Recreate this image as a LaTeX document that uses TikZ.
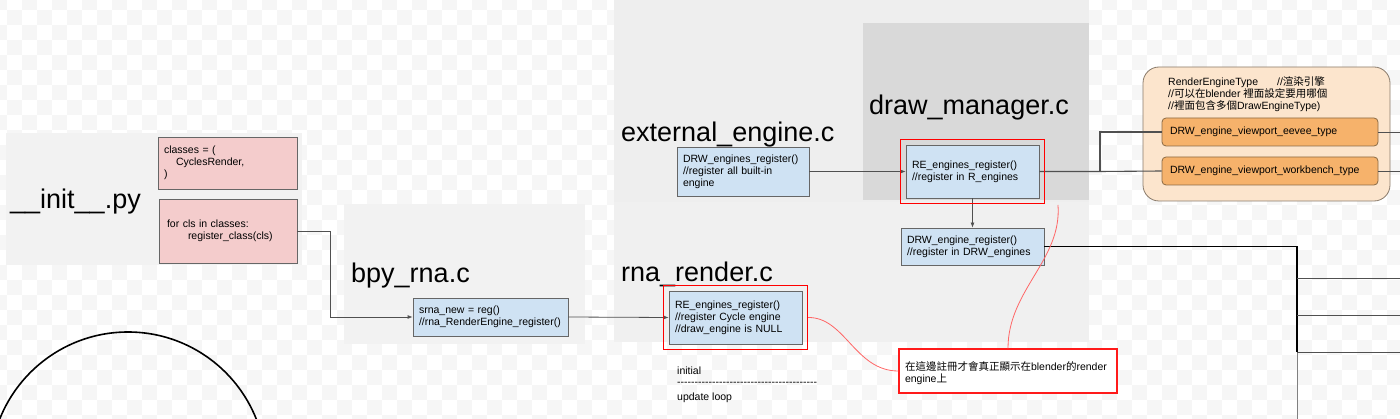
\documentclass[tikz,border=0pt]{standalone}
\usepackage{fontspec}
\setmainfont{Liberation Sans}
\newfontfamily\cjk{Noto Sans CJK TC}
\usetikzlibrary{arrows.meta, fit}
\definecolor{checker-gray}{HTML}{F6F6F6}
\definecolor{panel-gray}{HTML}{F2F2F2}
\definecolor{ext-gray}{HTML}{EEEEEE}
\definecolor{rna-gray}{HTML}{F0F0F0}
\definecolor{dm-gray}{HTML}{D9D9D9}
\definecolor{box-blue}{HTML}{CFE2F3}
\definecolor{box-pink}{HTML}{F4CCCC}
\definecolor{box-border}{HTML}{666666}
\definecolor{frame-red}{HTML}{FF1A1A}
\definecolor{curve-red}{HTML}{FF6666}
\definecolor{link-gray}{HTML}{505050}
\definecolor{group-fill}{HTML}{FCE5CD}
\definecolor{group-border}{HTML}{8A7B6B}
\definecolor{engine-orange}{HTML}{F6B26B}
\definecolor{engine-border}{HTML}{8B6B45}
\newcommand{\boxfont}{\fontsize{10.5}{12}\selectfont}
\newcommand{\titlefont}{\fontsize{27}{30}\selectfont}
\newcommand{\hyphenrow}{\foreach \k in {1,...,40}{\mbox{-}}}

\begin{document}
\begin{tikzpicture}[x=1pt, y=-1pt,
      every node/.style={font=\boxfont},
      codebox/.style={draw=box-border, line width=0.8pt, fill=box-blue,
        inner xsep=6pt, inner ysep=0pt, align=left},
      pinkbox/.style={codebox, fill=box-pink},
      redframe/.style={draw=frame-red, line width=1.4pt, inner sep=5pt},
      groupbox/.style={draw=group-border, line width=0.8pt, fill=group-fill,
        rounded corners=16pt},
      enginebox/.style={draw=engine-border, line width=0.8pt, fill=engine-orange,
        rounded corners=4pt, inner xsep=8pt, inner ysep=0pt, align=left},
      title/.style={font=\titlefont, anchor=base west, inner sep=0pt},
      plain/.style={anchor=base west, inner sep=0pt},
      link/.style={draw=link-gray, line width=0.8pt},
      arrowlink/.style={link, -{Latex[length=5pt, width=4pt]}},
      busline/.style={draw=black, line width=1.5pt},
      redlink/.style={draw=curve-red, line width=0.8pt}]
    \useasboundingbox (0,0) rectangle (1400,419);
    \clip (0,0) rectangle (1400,419);
    \foreach \j in {0,...,28}{
      \pgfmathtruncatemacro\first{mod(\j,2)}
      \pgfmathtruncatemacro\second{\first+2}
      \foreach \i in {\first,\second,...,94}
        \fill[checker-gray] (-7.7+15*\i,-5+15*\j) rectangle ++(15,15);
    }
    \fill[panel-gray] (6,133) rectangle (302,265);
    \fill[panel-gray] (344,204) rectangle (585,344);
    \fill[ext-gray] (614,0) rectangle (1089,202);
    \fill[rna-gray] (614,202) rectangle (1089,342);
    \fill[dm-gray] (863,23) rectangle (1089,200);

    \node (inittitle) [title] at (10,209) {\_\_init\_\_.py};
    \node (bpytitle) [title] at (351,283) {bpy\_rna.c};
    \node (exttitle) [title] at (621,142) {external\_engine.c};
    \node (rnatitle) [title] at (621,282) {rna\_render.c};
    \node (dmtitle) [title] at (869,115) {draw\_manager.c};

    \node (classes) [pinkbox, text width=127pt, minimum height=52pt] at (227.5,163)
          {classes = (\\\hspace*{12pt}CyclesRender,\\)};
    \node (forcls) [pinkbox, text width=126pt, minimum height=64pt] at (228,231)
          {\hspace*{2pt}for cls in classes:\\\hspace*{23pt}register\_class(cls)};
    \node (srna) [codebox, text width=143pt, minimum height=38pt] at (490.5,317)
          {srna\_new = reg()\\//rna\_RenderEngine\_register()};
    \node (rnare) [codebox, text width=121pt, minimum height=53pt] at (735.5,317.5)
          {RE\_engines\_register()\\//register Cycle engine\\//draw\_engine is NULL};
    \node (extreg) [codebox, text width=120pt, minimum height=49pt] at (743,171.5)
          {DRW\_engines\_register()\\//register all built-in\\engine};
    \node (dmre) [codebox, text width=121pt, minimum height=53pt] at (972.5,171.5)
          {RE\_engines\_register()\\//register in R\_engines};
    \node (drwreg) [codebox, text width=131pt, minimum height=37pt] at (972.5,246.5)
          {DRW\_engine\_register()\\//register in DRW\_engines};
    \node (note) [redframe, fill=white, inner sep=0pt, inner xsep=6pt, align=left,
          text width=206pt, text depth=9pt, minimum height=44pt] at (1008,371)
          {{\cjk 在這邊註冊才會真正顯示在}blender{\cjk 的}render\\engine{\cjk 上}};

    \node (initial) [plain] at (677,375) {initial};
    \node (dashes) [plain] at (677,386) {\hyphenrow};
    \node (updateloop) [plain] at (677,400) {update loop};

    \node (enginetype) [groupbox, minimum width=247pt, minimum height=134pt] at (1266.5,134) {};
    \node (enginetext) [anchor=north west, inner sep=0pt, align=left] at (1168,76)
          {RenderEngineType\hspace{19pt}//{\cjk 渲染引擎}\\
           //{\cjk 可以在}blender {\cjk 裡面設定要用哪個}\\
           //{\cjk 裡面包含多個}DrawEngineType)};
    \node (eevee) [enginebox, text width=200pt, minimum height=28pt] at (1270,132)
          {DRW\_engine\_viewport\_eevee\_type};
    \node (workbench) [enginebox, text width=200pt, minimum height=28pt] at (1270,171)
          {DRW\_engine\_viewport\_workbench\_type};

    \draw[arrowlink] (forcls.east) -- ++(33,0) |- (srna.west);
    \draw[arrowlink] (srna.east) -- (rnare.west);
    \draw[arrowlink] (extreg.east) -- (extreg.east -| dmre.west);
    \draw[arrowlink] (dmre.south) -- (drwreg.north);

    \coordinate (hub) at (1100,171.5);
    \coordinate (eeveeout) at (1400,132);
    \coordinate (workout) at (1400,171);
    \draw[link, line width=1.1pt] (dmre.east) -- (hub) -- (workbench.west);
    \draw[link, line width=1.1pt] (hub) |- (eevee.west);
    \draw[link] (eevee.east) -- (eeveeout);
    \draw[link] (workbench.east) -- (workout);

    \coordinate (busmid) at (1297,352);
    \coordinate (busend) at (1297,419);
    \draw[busline] (drwreg.east) -| (busmid);
    \draw[link, draw=gray] (busmid) -- (busend);
    \foreach \k/\yy in {1/278,2/315,3/352}{
      \coordinate (tap\k) at (1297,\yy);
      \coordinate (exit\k) at (1400,\yy);
      \draw[link] (tap\k) -- (exit\k);
    }

    \node (rnaframe) [redframe, draw=red, fit=(rnare)] {};
    \node (dmframe) [redframe, draw=red, fit=(dmre)] {};

    \coordinate (dmhook) at (1058,205);
    \draw[redlink] (rnaframe.east) .. controls (845,317) and (855,371) .. (note.west);
    \draw[redlink] (note.north) .. controls (1008,290) and (1062,260) .. (dmhook);

    \draw[line width=1.6pt] (128,470) circle (138pt);
  \end{tikzpicture}
\end{document}
